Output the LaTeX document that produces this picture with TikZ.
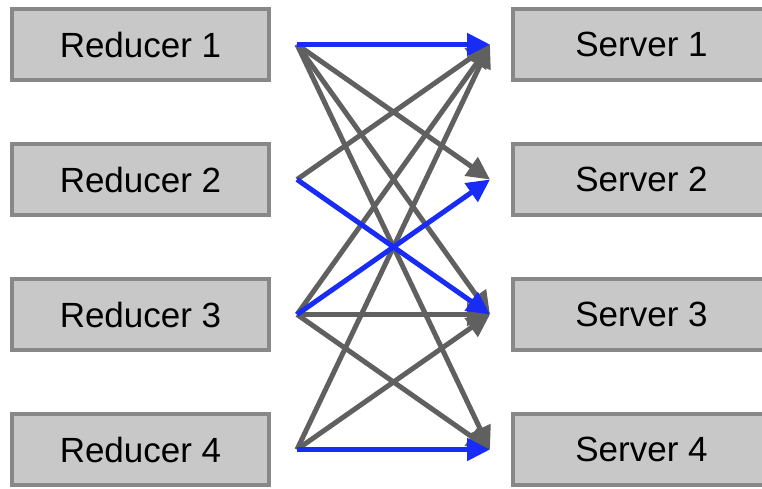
\documentclass[tikz,border=0pt]{standalone}
\usepackage{fontspec}
\setmainfont{Liberation Sans}
\usetikzlibrary{arrows.meta}
\definecolor{boxfill}{RGB}{200,200,200}
\definecolor{boxline}{RGB}{136,136,136}
\definecolor{linkgray}{RGB}{96,96,96}
\definecolor{linkblue}{RGB}{24,44,245}
\tikzset{
  unit/.style={draw=boxline, line width=4pt, fill=boxfill, minimum width=257pt,
    minimum height=71pt, inner sep=0pt, font=\fontsize{35}{40}\selectfont},
  link/.style={line width=5pt, -{Triangle[length=23pt,width=22pt]}},
  graylink/.style={link, draw=linkgray, fill=linkgray},
  bluelink/.style={link, draw=linkblue, fill=linkblue},
}
\begin{document}
\begin{tikzpicture}[x=1pt,y=-1pt]
\useasboundingbox (0,0) rectangle (762,489);
\begin{scope}
\clip (0,0) rectangle (762,489);
\foreach \i/\y in {1/44.5,2/179.5,3/314.5,4/449.5}{
  \node[unit] (red\i) at (140.5,\y) {Reducer \i};
  \node[unit] (srv\i) at (641.5,\y) {Server \i};
  \coordinate (out\i) at (297,\y);
  \coordinate (in\i) at (490,\y);
}
\end{scope}
% gray links
\draw[graylink] (out1) -- (in2);
\draw[graylink] (out1) -- (in3);
\draw[graylink] (out1) -- (in4);
\draw[graylink] (out2) -- (in1);
\draw[graylink] (out3) -- (in1);
\draw[graylink] (out3) -- (in3);
\draw[graylink] (out3) -- (in4);
\draw[graylink] (out4) -- (in1);
\draw[graylink] (out4) -- (in3);
% blue links
\draw[bluelink] (out1) -- (in1);
\draw[bluelink] (out2) -- (in3);
\draw[bluelink] (out3) -- (in2);
\draw[bluelink] (out4) -- (in4);
\end{tikzpicture}
\end{document}
